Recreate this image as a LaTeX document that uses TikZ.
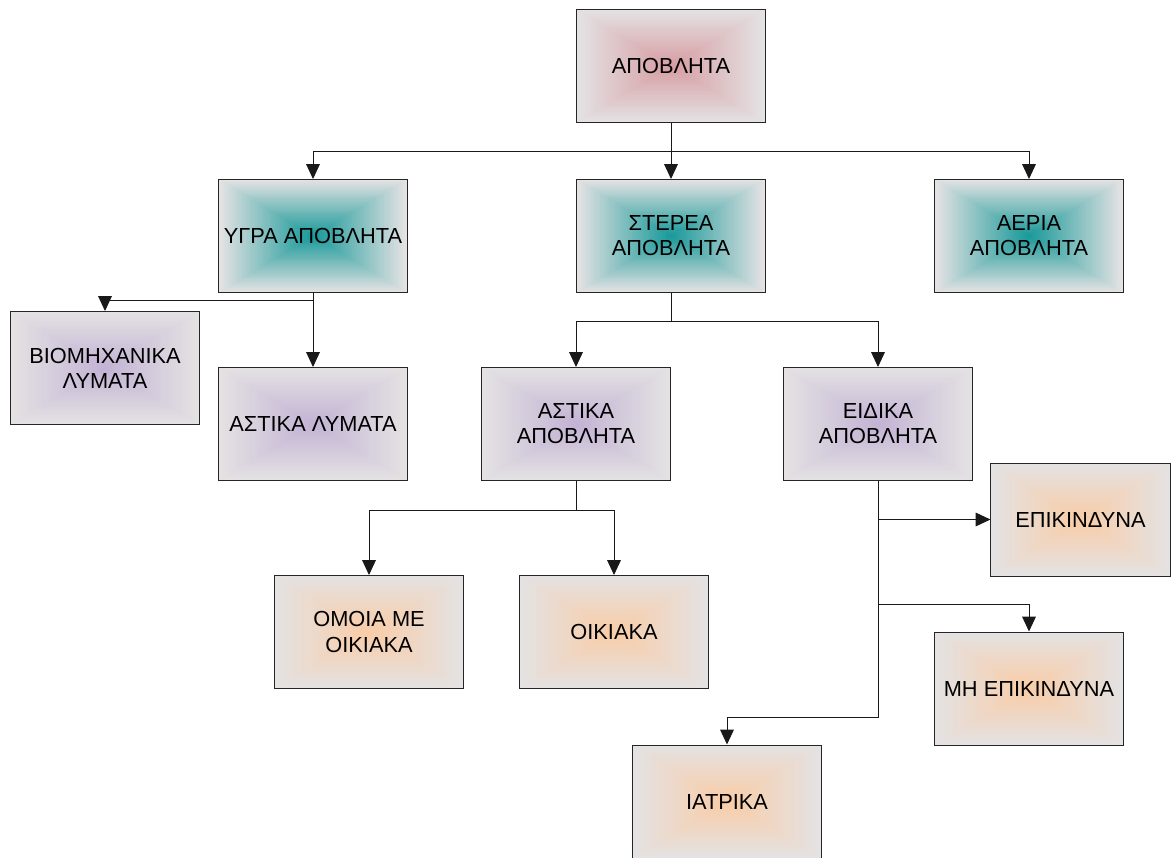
\documentclass[tikz,border=0pt]{standalone}
\usepackage{fontspec}
\setmainfont{Liberation Sans}
\usepackage{tikz}
\usetikzlibrary{calc}
\usetikzlibrary{arrows.meta}
\definecolor{rimgray}{RGB}{228,226,227}
\definecolor{rosecore}{RGB}{214,156,162}
\definecolor{tealcore}{RGB}{22,152,152}
\definecolor{lilaccore}{RGB}{194,178,212}
\definecolor{peachcore}{RGB}{249,204,166}
\tikzset{
  wastebox/.style={draw=black!85, line width=0.7pt, minimum width=4.7cm, minimum height=2.825cm,
    inner sep=1pt, align=center, font=\fontsize{15.5}{17.8}\selectfont,
    path picture={
      \foreach \i in {0,...,59} {
        \pgfmathtruncatemacro\mix{\i*100/60}
        \fill[#1!\mix!rimgray]
          ($(path picture bounding box.south west)!\i/120!(path picture bounding box.north east)$) rectangle
          ($(path picture bounding box.north east)!\i/120!(path picture bounding box.south west)$);
      }
    }},
  link/.style={->, line width=0.7pt, draw=black!90},
  >={Triangle[width=0.34cm,length=0.37cm]}
}

\begin{document}
\begin{tikzpicture}[x=0.025cm,y=-0.025cm]
\useasboundingbox (0,0) rectangle (1171,857);
% top level
\node[wastebox=rosecore] (waste) at (671,66) {ΑΠΟΒΛΗΤΑ};
\node[wastebox=tealcore] (liquid) at (313,236) {ΥΓΡΑ ΑΠΟΒΛΗΤΑ};
\node[wastebox=tealcore] (solid) at (671,236) {ΣΤΕΡΕΑ\\ΑΠΟΒΛΗΤΑ};
\node[wastebox=tealcore] (gas) at (1029,236) {ΑΕΡΙΑ\\ΑΠΟΒΛΗΤΑ};
% second level
\node[wastebox=lilaccore] (industrial) at (105,368) {ΒΙΟΜΗΧΑΝΙΚΑ\\ΛΥΜΑΤΑ};
\node[wastebox=lilaccore] (sewage) at (313,424) {ΑΣΤΙΚΑ ΛΥΜΑΤΑ};
\node[wastebox=lilaccore] (urban) at (576,424) {ΑΣΤΙΚΑ\\ΑΠΟΒΛΗΤΑ};
\node[wastebox=lilaccore] (special) at (878,424) {ΕΙΔΙΚΑ\\ΑΠΟΒΛΗΤΑ};
% third level
\node[wastebox=peachcore, minimum width=4.475cm] (hazard) at (1080.5,519.5) {ΕΠΙΚΙΝΔΥΝΑ};
\node[wastebox=peachcore] (similar) at (369,632) {ΟΜΟΙΑ ΜΕ\\ΟΙΚΙΑΚΑ};
\node[wastebox=peachcore] (household) at (614,632) {ΟΙΚΙΑΚΑ};
\node[wastebox=peachcore] (nonhazard) at (1029,688.5) {ΜΗ ΕΠΙΚΙΝΔΥΝΑ};
\node[wastebox=peachcore] (medical) at (727,801.5) {ΙΑΤΡΙΚΑ};
% connectors
\draw[link] (waste.south) -- ++(0,28.5) -| (liquid.north);
\draw[link] (waste.south) -- ++(0,28.5) -| (gas.north);
\draw[link] (waste) -- (solid);
\draw[link] (liquid.south) -- ++(0,7) -| (industrial.north);
\draw[link] (liquid) -- (sewage);
\draw[link] (solid.south) -- ++(0,28) -| (urban.north);
\draw[link] (solid.south) -- ++(0,28) -| (special.north);
\draw[link] (urban.south) -- ++(0,29) -| (similar.north);
\draw[link] (urban.south) -- ++(0,29) -| (household.north);
\draw[link] (special.south) |- (hazard.west);
\draw[link] (special.south) -- ++(0,123) -| (nonhazard.north);
\draw[link] (special.south) -- ++(0,236) -| (medical.north);
\end{tikzpicture}
\end{document}
